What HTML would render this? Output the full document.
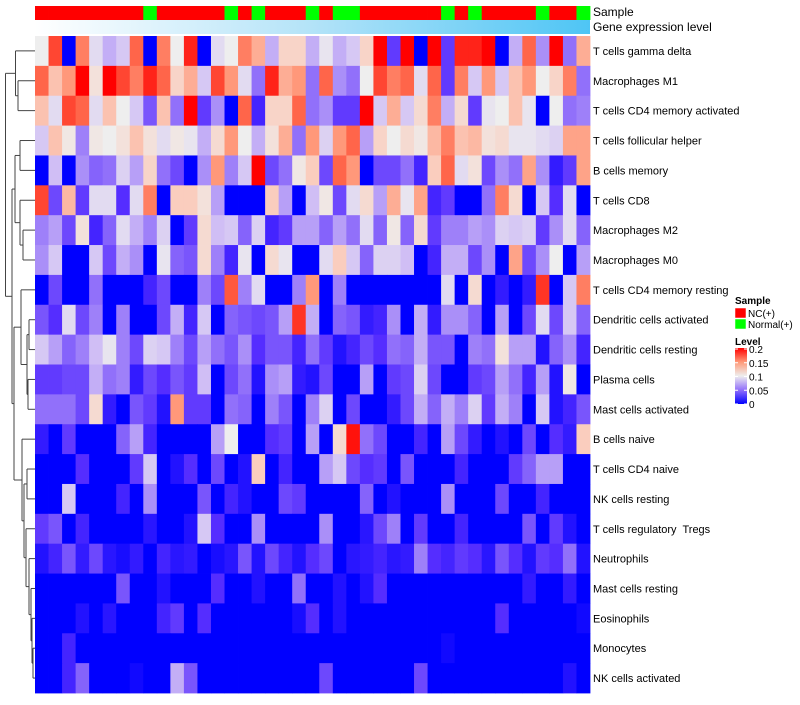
<!DOCTYPE html>
<html><head><meta charset="utf-8">
<style>
html,body{margin:0;padding:0;background:#fff;}
svg text{font-family:"Liberation Sans",sans-serif;white-space:pre;}
</style></head>
<body>
<svg id="chart" width="800" height="700" xmlns="http://www.w3.org/2000/svg">
  <defs>
    <linearGradient id="geneGrad" x1="0" x2="1" y1="0" y2="0">
      <stop offset="0" stop-color="#ffffff"/>
      <stop offset="0.5" stop-color="#b3e3f8"/>
      <stop offset="1" stop-color="#4ec5f5"/>
    </linearGradient>
    <linearGradient id="levelGrad" x1="0" x2="0" y1="1" y2="0">
      <stop offset="0" stop-color="#0000ff"/>
      <stop offset="0.25" stop-color="#9170fa"/>
      <stop offset="0.5" stop-color="#eeeeee"/>
      <stop offset="0.75" stop-color="#ff9a78"/>
      <stop offset="1" stop-color="#ff0000"/>
    </linearGradient>
  </defs>
  <g id="dendro"></g>
  <g id="sampleBar"></g>
  <rect x="35" y="20" width="555" height="14" fill="url(#geneGrad)"/>
  <text x="593" y="16" font-size="12">Sample</text>
  <text x="593" y="31" font-size="12">Gene expression level</text>
  <g id="cells"></g>
  <g id="rowLabels"></g>
  <g>
    <text x="735" y="304" font-size="10" font-weight="bold">Sample</text>
    <rect x="735" y="308" width="11" height="10" fill="#ff0000" stroke="#fff" stroke-width="0.5"/>
    <text x="748" y="317" font-size="10">NC(+)</text>
    <rect x="735" y="319" width="11" height="10" fill="#00ff00" stroke="#fff" stroke-width="0.5"/>
    <text x="748" y="328" font-size="10">Normal(+)</text>
    <text x="735" y="345" font-size="10" font-weight="bold">Level</text>
    <rect x="735" y="348" width="12" height="56" fill="url(#levelGrad)"/>
    <g id="levelTicks"></g>
  </g>
</svg>
<script>
const rowNames = ["T cells gamma delta","Macrophages M1","T cells CD4 memory activated","T cells follicular helper","B cells memory","T cells CD8","Macrophages M2","Macrophages M0","T cells CD4 memory resting","Dendritic cells activated","Dendritic cells resting","Plasma cells","Mast cells activated","B cells naive","T cells CD4 naive","NK cells resting","T cells regulatory  Tregs","Neutrophils","Mast cells resting","Eosinophils","Monocytes","NK cells activated"];
const sampleGroups = ["NC","NC","NC","NC","NC","NC","NC","NC","Normal","NC","NC","NC","NC","NC","Normal","NC","Normal","NC","NC","NC","Normal","NC","Normal","Normal","NC","NC","NC","NC","NC","NC","Normal","NC","Normal","NC","NC","NC","NC","Normal","NC","NC","Normal"];
const levelTickLabels = [0, 0.05, 0.1, 0.15, 0.2];
// cell levels in hundredths (level = value / 100)
const cellValues = [
[10,18,0,16,9,7,8,17,0,16,10,19,0,9,10,16,14,7,12,12,7,9.5,7,8,12,20,3,20,0,20,3,19,19,20,0,7,17,6,20,5,14],
[17,13,15,20,11,20,18,16,19,17,12,14,8,18,15,9,5,19,14,15,5,17,6,5,10,18,16,17,9,17,3,16,8,15,8,13,15,10,12,16,5],
[13,9,18,17,9,13,10,8,4,13,5,20,3,6,0,17,2,12,12,17,5,6,3,3,20,8,14,8,11.5,16,7,11.5,3,9.5,10,13,9.5,0,10,5,5.5],
[8,13,10.5,5.5,10.5,10,11,13,11,9,10.5,9.5,7,11.5,15,10,7,11,14,5,15,8.5,15,17,6.5,12,10,11.5,10.5,13.5,16,13,13.5,11,11.5,9.5,9.5,9,8.5,14.5,14.5],
[0,7.5,0,6,4.5,5,8.5,6.5,12,5,3.5,0,6,15,5.5,8,20,3.5,5,10.5,12.5,3.5,17,15,0,3.5,3.5,5,2,12.5,17,9,11,3.5,6,5,14.5,6,1.5,3,14.5],
[18,3.5,13.5,3,9,9,2.5,9,16,0,12.5,12.5,11,6.5,0,0,0,12.5,6.5,0,7.5,10.5,3.5,9,11.5,6.5,14,9.5,14.5,2,3,0,0,5,16,11.5,0,8,2.5,9,0],
[5.5,6.5,3.5,11,2,4.5,9,7,5.5,8.5,0,3,11.5,7.5,8,4.5,8.5,2,3,6.5,6.5,4.5,6.5,5,9,4.5,10.5,4.5,11.5,3,5.5,5.5,6.5,6,8.5,8,8.5,3,6,9,4.5],
[6,8,0,0,8,3.5,7,6,0,9.5,4.5,4,11.5,5.5,2,9.5,0,11.5,9.5,0,0,9,12.5,8,4.5,8.5,8.5,7.5,0,2,7,7,3.5,6,0,14.5,3.5,6,10,0,6.5],
[0,3.5,0,0,5,0,0,0,2,3.5,0,0,5.5,3.5,17.5,5.5,9,0,0,5.5,15,0,5.5,0,0,0,0,0,0,0,9,0,11.5,0,1.5,0,1.5,18.5,0,8,16],
[4,2.5,9,3.5,5.5,0,5.5,0,0,3.5,7,2,8,0,4.5,4,3.5,4,6.5,18.5,7,0,4.5,4,1.5,2,6,0,7,1.5,6,6,4.5,0,6.5,0,3.5,9,3.5,8,4.5],
[8,6.5,4.5,5.5,7.5,9.5,5.5,3.5,8.5,8,5.5,3.5,6.5,5,4,6,2.5,4,4,2,5,3,1,2,3.5,2.5,5,4.5,7,4,4,0,5.5,5,11,6.5,6.5,1,4.5,6,2],
[3,3,3.5,3.5,7,5,5.5,1.5,3.5,2.5,4,3,7.5,0,3.5,5,1,6,6.5,1.5,1,3.5,0,0,6.5,0,3,3.5,8.5,3.5,0,0,3,3.5,6.5,5,2,6.5,1,10.5,0],
[5,5,5,3.5,11.5,1.5,0,4,3,1,15,3,3,0,5,4.5,0,5.5,4,0,5.5,8.5,0,3.5,0,0,1.5,3.5,7,4.5,7,5.5,8.5,3,7,5.5,0,8,1,2,4],
[1.5,0,3,0,0,0,4.5,6.5,2,0,0,0,0,6.5,10,0,0,2.5,3,0,6.5,0,11.5,19.5,5,3.5,0,0,2,0,6.5,3.5,1.5,0,1,0,3.5,0,2.5,1.5,12.5],
[0,0,0,2.5,0,0,0,3,8,0,1,2.5,0,3.5,0,1,12.5,0,2,0,0,6.5,8,3.5,2.5,3,0,4,0,0,0,2,0,0,0,3,4.5,6.5,6.5,0,0],
[0,0,8,0,0,0,2,0,6,0,0,0,4,0,2,1,0,0,3.5,3,0,0,0,0,4.5,0,1,0,0,0,6,0,0,0,3.5,0,0,2,0,0,0],
[3,4,0,2,0,0,0,0,1.2,0,0,1,8,2.5,0,0,6,0,0,0,0,6,0,0,1.2,3.5,5.5,0,3,0,0,2,0,0,0,0,4,0,3,1,0],
[1,2,4,1.5,3.5,1.2,0.7,1.5,0,2,1.2,1.5,0,0.7,1.2,4,1,3.5,2,1,2.5,3.5,0,1.2,1.5,2,1.2,1.5,5.5,2.5,2,3,2.5,1.2,4,2.5,1,3,2.5,5,1],
[0,0,0,0,0,0,4,0,0,1,0,0,0,2.5,0,0,1,0,0,5,0,0,1,0,1,2.5,0,0,0,0,0,0,0,0,0,0,1.5,0,0,1.5,0],
[0,0,0,1,0,1.2,0,0,0,2,3,0,2.5,0,0,0,0,0,0,0.7,2.5,0,1,0,0,0,0,0,0,0,0,0,0,0,2.5,0,0,0,0,0,0.5],
[0,0,2,0,0,0,0,0,0,0,0,0,0,0,0,0,0,0,0,0,0,0,0,0,0,0,0,0,0,0,0.5,0,0,0,0,0,0,0,0,0,0],
[0,0,2,4.5,0,0,0,0.5,0,0,7,4,0,0,0,0,0,0,0,0,0,3.5,0,0,0,0,0,0,3.5,0,0,0,0,0,0,0,0,0,0,1,0]
];

const NS = "http://www.w3.org/2000/svg";
const X0 = 35, X1 = 590, Y0 = 36, Y1 = 693;
const nCols = sampleGroups.length, nRows = rowNames.length;
const cw = (X1 - X0) / nCols, rh = (Y1 - Y0) / nRows;
function xScale(c){ return X0 + c * cw; }
function yScale(r){ return Y0 + r * rh; }
const stops = [[0,[0,0,255]],[0.025,[85,45,255]],[0.05,[145,112,250]],[0.075,[208,190,245]],[0.1,[238,238,238]],[0.125,[250,205,190]],[0.15,[255,152,122]],[0.175,[255,88,62]],[0.2,[255,0,0]]];
function colorScale(v){
  v = Math.max(0, Math.min(0.2, v));
  for (let i = 1; i < stops.length; i++){
    if (v <= stops[i][0]){
      const a = stops[i-1], b = stops[i], t = (v - a[0]) / (b[0] - a[0]);
      const c = a[1].map((x, k) => Math.round(x + (b[1][k] - x) * t));
      return "rgb(" + c.join(",") + ")";
    }
  }
  return "rgb(255,0,0)";
}
function mk(tag, attrs, parent){
  const el = document.createElementNS(NS, tag);
  for (const k in attrs) el.setAttribute(k, attrs[k]);
  parent.appendChild(el);
  return el;
}
const cellsG = document.getElementById("cells");
cellValues.forEach((row, r) => {
  row.forEach((v, c) => {
    const el = mk("rect", {x: xScale(c), y: yScale(r), width: cw + 0.4, height: rh + 0.4, fill: colorScale(v / 100)}, cellsG);
    
    
  });
});
const sampleG = document.getElementById("sampleBar");
sampleGroups.forEach((g, c) => {
  const el = mk("rect", {x: xScale(c), y: 6, width: cw + 0.4, height: 14, fill: g === "NC" ? "#ff0000" : "#00ff00"}, sampleG);
  
  
});
const labG = document.getElementById("rowLabels");
rowNames.forEach((n, r) => {
  const el = mk("text", {x: 593, y: yScale(r) + rh / 2 + 4, "font-size": 11}, labG);
  el.textContent = n;
  
  
});
const tickG = document.getElementById("levelTicks");
levelTickLabels.forEach(t => {
  const y = 404 - (t / 0.2) * 55;
  const ln = mk("line", {x1: 735, x2: 738, y1: y, y2: y, stroke: "#fff", "stroke-width": 1}, tickG);
  
  
  const ln2 = mk("line", {x1: 744, x2: 747, y1: y, y2: y, stroke: "#fff", "stroke-width": 1}, tickG);
  
  
  const tx = mk("text", {x: 749, y: y + 4, "font-size": 10}, tickG);
  tx.textContent = String(t);
  
  
});
// dendrogram tree: [height x, left, right]; leaves are row indices
const tree = [5.5, [15.5, 0, [18, 1, 2]],
  [12, [15, [20, 3, 4], [20, 5, [23, 6, 7]]],
       [14, [21, 8, [27, [29, 9, 10], [28, 11, 12]]],
            [22, 13, [24, [27, 14, 15], [26, 16, [29, 17, [31, 18, [32, 19, [33, 20, 21]]]]]]]]]];
const dG = document.getElementById("dendro");
function draw(node){
  if (typeof node === "number") return {x: X0, y: yScale(node) + rh / 2};
  const a = draw(node[1]), b = draw(node[2]), x = node[0];
  [[x, a.y, a.x, a.y], [x, b.y, b.x, b.y], [x, a.y, x, b.y]].forEach(s => {
    const l = mk("line", {x1: s[0], y1: s[1], x2: s[2], y2: s[3], stroke: "#444", "stroke-width": 1}, dG);
    
    
  });
  return {x: x, y: (a.y + b.y) / 2};
}
draw(tree);
</script>
</body></html>
